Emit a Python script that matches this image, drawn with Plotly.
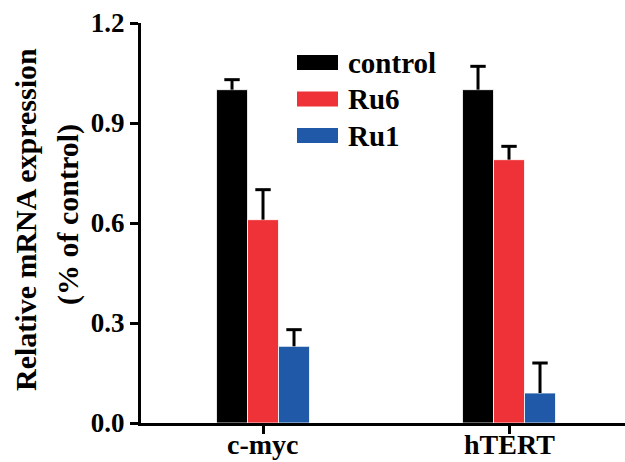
import plotly.graph_objects as go

categories = ["c-myc", "hTERT"]
series_names = ["control", "Ru6", "Ru1"]
control_vals = [1.0, 1.0]
ru6_vals = [0.61, 0.79]
ru1_vals = [0.23, 0.09]
control_err = [0.03, 0.07]
ru6_err = [0.09, 0.04]
ru1_err = [0.05, 0.09]
y_ticks = [0.0, 0.3, 0.6, 0.9, 1.2]
y_ticklabels = ["0.0", "0.3", "0.6", "0.9", "1.2"]

colors = ["#000000", "#EE3237", "#1F59A7"]
values = [control_vals, ru6_vals, ru1_vals]
errors = [control_err, ru6_err, ru1_err]

FONT = "Liberation Serif"
W, H = 625, 462
L, R, T, B = 141, 0, 23, 39
PW = W - L - R
PH = H - T - B

def px2x(px):
    return (px - L) / PW

def py2y(py):
    return (H - B - py) / PH

fig = go.Figure()
for name, vals, errs, col in zip(series_names, values, errors, colors):
    fig.add_trace(go.Bar(
        x=categories, y=vals, name=name, offsetgroup=name, alignmentgroup="g",
        marker=dict(color=col, line=dict(color="white", width=0.8)),
        error_y=dict(type="data", array=errs, arrayminus=[0]*len(errs), symmetric=False,
                     color="black", thickness=3, width=0),
        showlegend=False,
    ))
# error-bar caps (top only)
for name, vals, errs in zip(series_names, values, errors):
    fig.add_trace(go.Scatter(
        x=categories, y=[v + e for v, e in zip(vals, errs)], offsetgroup=name, alignmentgroup="g",
        mode="markers", marker=dict(symbol="line-ew", size=11, line=dict(color="black", width=3)),
        showlegend=False, hoverinfo="skip",
    ))

# manual legend (wide swatches)
row_y = [62.5, 99, 135.5]
for name, col, ry in zip(series_names, colors, row_y):
    fig.add_shape(type="rect", xref="paper", yref="paper",
                  x0=px2x(297), x1=px2x(338), y0=py2y(ry + 7.5), y1=py2y(ry - 7.5),
                  fillcolor=col, line=dict(width=0))
    fig.add_annotation(xref="paper", yref="paper", x=px2x(346), y=py2y(ry),
                       text="<b>%s</b>" % name, showarrow=False, xanchor="left", yanchor="middle",
                       font=dict(family=FONT, size=29, color="black"))

# category labels (placed closer to axis than default tick labels)
for c in categories:
    fig.add_annotation(xref="x", yref="paper", x=c, y=py2y(444),
                       text="<b>%s</b>" % c, showarrow=False, xanchor="center", yanchor="middle",
                       font=dict(family=FONT, size=28, color="black"))

# y-axis title as two rotated lines
fig.add_annotation(xref="paper", yref="paper", x=px2x(25), y=py2y(220),
                   text="<b>Relative mRNA expression</b>", textangle=-90, showarrow=False,
                   xanchor="center", yanchor="middle", font=dict(family=FONT, size=30, color="black"))
fig.add_annotation(xref="paper", yref="paper", x=px2x(68), y=py2y(215),
                   text="<b>(% of control)</b>", textangle=-90, showarrow=False,
                   xanchor="center", yanchor="middle", font=dict(family=FONT, size=30, color="black"))

fig.update_layout(
    width=W, height=H,
    margin=dict(l=L, r=R, t=T, b=B, pad=0, autoexpand=False),
    paper_bgcolor="white", plot_bgcolor="white",
    barmode="group", bargap=0.622, bargroupgap=0,
    scattermode="group", scattergap=0.622,
    font=dict(family=FONT, color="black"),
    xaxis=dict(range=[-0.496, 1.4715], showline=True, linecolor="black", linewidth=3,
               mirror=False, ticks="outside", ticklen=8, tickwidth=3, tickcolor="black",
               tickvals=categories, showticklabels=False,
               showgrid=False, zeroline=False, fixedrange=True, automargin=False),
    yaxis=dict(range=[0, 1.2], showline=True, linecolor="black", linewidth=3,
               mirror=True, ticks="outside", ticklen=8, tickwidth=3, tickcolor="black",
               tickvals=y_ticks, ticktext=["<b>%s</b>" % t for t in y_ticklabels],
               tickfont=dict(family=FONT, size=27, color="black"),
               showgrid=False, zeroline=False, fixedrange=True, automargin=False),
)

fig.write_html("out.html", config={"displayModeBar": False},
               post_script="document.body.style.margin='0';document.body.style.overflow='hidden';")
